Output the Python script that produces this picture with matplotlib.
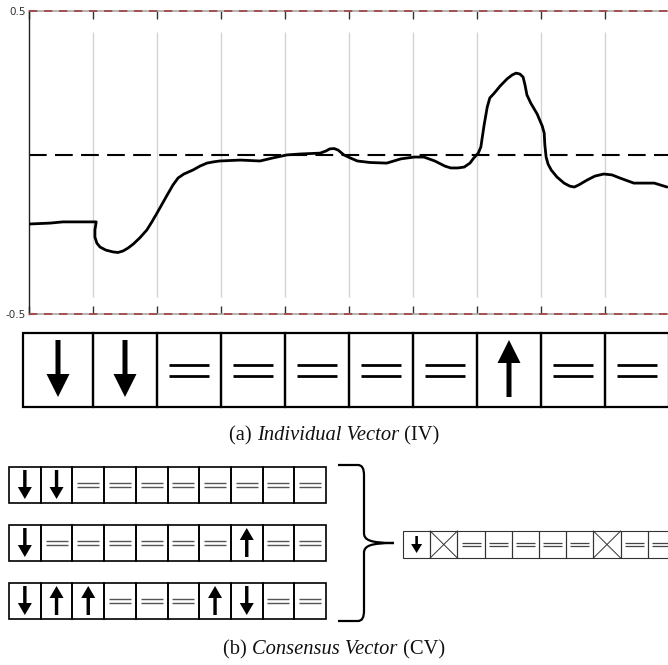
import matplotlib
matplotlib.use('Agg')
import matplotlib.pyplot as plt
from matplotlib.patches import Rectangle, FancyArrow, PathPatch
from matplotlib.path import Path

# ---------------- data ----------------
curve_x = [0.0, 0.33, 0.53, 1.05, 1.03, 1.03, 1.06, 1.11, 1.20, 1.31, 1.39, 1.47, 1.55,
           1.63, 1.73, 1.84, 1.92, 2.0, 2.08, 2.16, 2.25, 2.33, 2.42, 2.56, 2.67, 2.78,
           2.88, 2.98, 3.30, 3.61, 3.81, 4.03, 4.23, 4.55, 4.64, 4.70, 4.77, 4.83, 4.92,
           5.02, 5.13, 5.33, 5.59, 5.70, 5.81, 6.02, 6.17, 6.34, 6.50, 6.59, 6.70, 6.80,
           6.89, 6.95, 7.02, 7.06, 7.11, 7.16, 7.20, 7.27, 7.36, 7.47, 7.55, 7.61, 7.67,
           7.72, 7.75, 7.78, 7.84, 7.94, 8.02, 8.05, 8.06, 8.08, 8.11, 8.16, 8.25, 8.36,
           8.45, 8.52, 8.59, 8.72, 8.84, 8.98, 9.11, 9.23, 9.45, 9.77, 9.97]
curve_y = [-0.203, -0.200, -0.196, -0.196, -0.223, -0.246, -0.266, -0.279, -0.289, -0.295,
           -0.297, -0.292, -0.282, -0.269, -0.249, -0.223, -0.196, -0.167, -0.137, -0.107,
           -0.074, -0.051, -0.038, -0.025, -0.012, -0.002, 0.002, 0.005, 0.008, 0.005,
           0.015, 0.025, 0.028, 0.031, 0.038, 0.045, 0.046, 0.041, 0.025, 0.015, 0.005,
           0.000, -0.002, 0.005, 0.012, 0.018, 0.018, 0.005, -0.012, -0.018, -0.018,
           -0.015, -0.002, 0.015, 0.031, 0.051, 0.122, 0.183, 0.213, 0.229, 0.252, 0.276,
           0.289, 0.295, 0.292, 0.282, 0.256, 0.223, 0.196, 0.160, 0.120, 0.097, 0.058,
           0.018, -0.005, -0.025, -0.048, -0.068, -0.078, -0.081, -0.074, -0.058, -0.045,
           -0.038, -0.041, -0.051, -0.068, -0.068, -0.081]
ref_level = 0.025
n_segments = 10
y_ticks = [-0.5, 0.5]
y_tick_labels = ['-0.5', '0.5']

iv_symbols = ['down', 'down', 'eq', 'eq', 'eq', 'eq', 'eq', 'up', 'eq', 'eq']
cv_rows = [
    ['down', 'down', 'eq', 'eq', 'eq', 'eq', 'eq', 'eq', 'eq', 'eq'],
    ['down', 'eq', 'eq', 'eq', 'eq', 'eq', 'eq', 'up', 'eq', 'eq'],
    ['down', 'up', 'up', 'eq', 'eq', 'eq', 'up', 'down', 'eq', 'eq'],
]
consensus = ['down', 'x', 'eq', 'eq', 'eq', 'eq', 'eq', 'x', 'eq', 'eq']
caption_a = ('(a) ', 'Individual Vector', ' (IV)')
caption_b = ('(b) ', 'Consensus Vector', ' (CV)')

# ---------------- figure ----------------
W, H = 668, 665
fig = plt.figure(figsize=(W / 100, H / 100), dpi=100)
fig.patch.set_facecolor('white')

ax = fig.add_axes([29 / W, 1 - 314 / H, 640 / W, 303 / H])
ax.set_xlim(0, n_segments)
ax.set_ylim(-0.5, 0.5)
ax.vlines(range(1, n_segments), -0.444, 0.431, color='#d4d4d4', lw=1.0, zorder=1)
ax.axhline(ref_level, color='black', lw=1.5, dashes=(8.5, 4), zorder=2)
ax.plot(curve_x, curve_y, color='black', lw=2.0, solid_joinstyle='round',
        solid_capstyle='round', zorder=3)
for yv in (-0.5, 0.5):
    ax.axhline(yv, color='#a8a8a8', lw=1.2, clip_on=False, zorder=4)
    ax.axhline(yv, color='#a04040', lw=1.2, dashes=(5, 4), clip_on=False, zorder=5)
for s in ('top', 'bottom', 'right'):
    ax.spines[s].set_visible(False)
ax.spines['left'].set_color('#222222')
ax.spines['left'].set_linewidth(1.0)
ax.set_xticks(range(0, n_segments + 1))
ax.set_xticklabels([])
ax.tick_params(axis='x', direction='in', top=True, bottom=True, length=6,
               width=1.0, color='#333333')
ax.set_yticks(y_ticks)
ax.set_yticklabels(y_tick_labels)
ax.tick_params(axis='y', direction='in', length=4, width=1.5, color='#222222',
               labelsize=7.5, labelcolor='#333333', pad=2)

# ---------------- diagram overlay (pixel coordinates) ----------------
dx = fig.add_axes([0, 0, 1, 1], zorder=10)
dx.set_xlim(0, W)
dx.set_ylim(H, 0)
dx.axis('off')
dx.patch.set_alpha(0)


def draw_arrow(cx, top, bot, direction, shaft, hw, hl, color='black'):
    if direction == 'down':
        y0, d = top, bot - top
    else:
        y0, d = bot, top - bot
    dx.add_patch(FancyArrow(cx, y0, 0, d, width=shaft, head_width=hw, head_length=hl,
                            length_includes_head=True, color=color, lw=0))


def draw_row(symbols, edges, top, bot, lw, ecolor, arrow, eq, xcolor='#333333'):
    for i, s in enumerate(symbols):
        xl, xr = edges[i], edges[i + 1]
        cw = xr - xl
        dx.add_patch(Rectangle((xl, top), cw, bot - top, fill=False, lw=lw,
                               edgecolor=ecolor, clip_on=False))
        cx = xl + cw / 2
        cy = (top + bot) / 2
        if s in ('down', 'up'):
            a_top, a_bot, shaft, hw, hl = arrow
            draw_arrow(cx, top + a_top, bot - a_bot, s, shaft, hw, hl)
        elif s == 'eq':
            half, gap, elw, ecol = eq
            for yy in (cy - gap, cy + gap):
                dx.plot([cx - half, cx + half], [yy, yy], color=ecol, lw=elw,
                        solid_capstyle='butt')
        elif s == 'x':
            dx.plot([xl, xr], [top, bot], color=xcolor, lw=0.7)
            dx.plot([xl, xr], [bot, top], color=xcolor, lw=0.7)


# Individual vector row (aligned with plot segments, first cell a bit wider)
iv_edges = [23] + [29 + 64 * k for k in range(1, 11)]
draw_row(iv_symbols, iv_edges, 333, 407, 1.6, 'black',
         arrow=(7, 10, 5, 23, 23), eq=(20, 5.5, 2.0, 'black'))

# Consensus rows
cv_edges = [9 + 31.7 * k for k in range(11)]
for r, row in enumerate(cv_rows):
    top = 467 + r * 58
    draw_row(row, cv_edges, top, top + 36, 1.2, 'black',
             arrow=(3, 4, 3.4, 14, 12), eq=(11, 2.0, 1.0, '#555555'))

# Consensus result
cs_edges = [403 + 27.2 * k for k in range(11)]
draw_row(consensus, cs_edges, 531, 558, 0.8, '#333333',
         arrow=(5, 5, 2.6, 11, 9), eq=(9.5, 1.8, 0.9, '#444444'))

# Brace
bx0, bx1, btip = 338, 364, 394
btop, bbot, bmid = 465, 621, 543
verts = [(bx0, btop), (bx1 - 6, btop), (bx1, btop), (bx1, btop + 10),
         (bx1, bmid - 10),
         (bx1, bmid - 3), (bx1 + 6, bmid), (btip, bmid),
         (bx1 + 6, bmid), (bx1, bmid + 3), (bx1, bmid + 10),
         (bx1, bbot - 10),
         (bx1, bbot), (bx1 - 6, bbot), (bx0, bbot)]
codes = [Path.MOVETO, Path.LINETO, Path.CURVE3, Path.CURVE3,
         Path.LINETO,
         Path.CURVE4, Path.CURVE4, Path.CURVE4,
         Path.CURVE4, Path.CURVE4, Path.CURVE4,
         Path.LINETO,
         Path.CURVE3, Path.CURVE3, Path.LINETO]
dx.add_patch(PathPatch(Path(verts, codes), fill=False, lw=1.6, edgecolor='black',
                       clip_on=False))

# Captions
renderer = fig.canvas.get_renderer()


def caption(parts, cx, cy, size=14.8):
    styles = ['normal', 'italic', 'normal']
    texts = []
    for p, st in zip(parts, styles):
        t = dx.text(0, cy, p, fontsize=size, family='Liberation Serif', style=st,
                    ha='left', va='center', color='#111111')
        texts.append(t)
    widths = [t.get_window_extent(renderer).width for t in texts]
    x = cx - sum(widths) / 2
    for t, w in zip(texts, widths):
        t.set_x(x)
        x += w


caption(caption_a, 334, 436)
caption(caption_b, 334, 650)

fig.savefig('out.png', dpi=100, facecolor='white')
